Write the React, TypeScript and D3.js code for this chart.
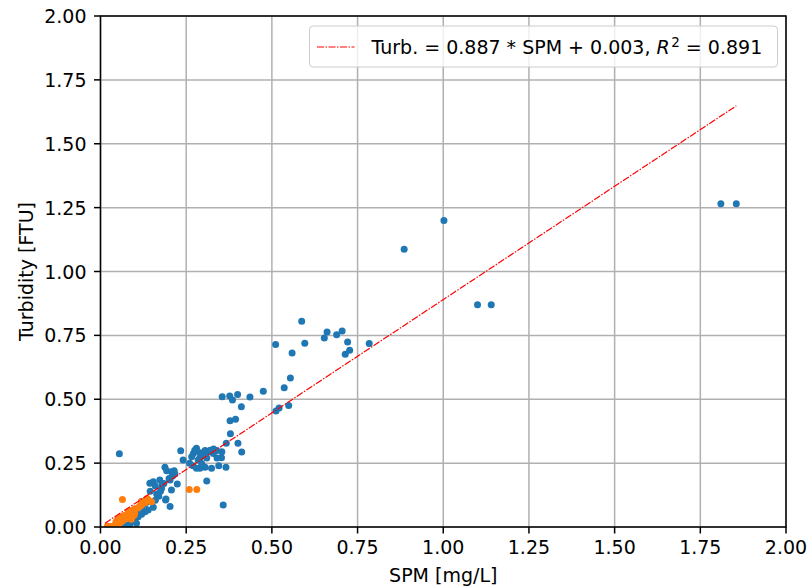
import React from "react";
import * as d3 from "d3";

const blueX = [1.81, 1.855, 1.002, 0.886, 1.10, 1.14,
  0.587, 0.511, 0.596, 0.559, 0.653, 0.661, 0.689, 0.705, 0.721, 0.714, 0.727, 0.784,
  0.554, 0.536, 0.475, 0.436, 0.40, 0.385, 0.377, 0.355, 0.411, 0.512, 0.521, 0.549,
  0.378, 0.394, 0.379, 0.401, 0.412, 0.367, 0.354, 0.339, 0.329, 0.315, 0.305, 0.29, 0.28, 0.271, 0.266,
  0.234, 0.241, 0.285, 0.295, 0.305, 0.29, 0.324, 0.353, 0.366, 0.31, 0.358,
  0.275, 0.30, 0.31, 0.32, 0.26, 0.27, 0.28, 0.29, 0.33, 0.34, 0.345,
  0.188, 0.193, 0.207, 0.217, 0.224, 0.203, 0.173, 0.154, 0.144,
  0.055, 0.19, 0.164, 0.152, 0.178, 0.207, 0.203, 0.191, 0.154, 0.139,
  0.13, 0.12, 0.11, 0.10, 0.09, 0.085, 0.08, 0.075, 0.07, 0.10, 0.11, 0.12, 0.13, 0.14, 0.125, 0.115, 0.095, 0.105, 0.12,
  0.17, 0.16, 0.145, 0.16, 0.175, 0.18, 0.20, 0.21, 0.215, 0.185];
const blueY = [1.265, 1.265, 1.2, 1.087, 0.87, 0.87,
  0.805, 0.714, 0.719, 0.681, 0.74, 0.763, 0.752, 0.767, 0.724, 0.676, 0.692, 0.718,
  0.583, 0.545, 0.531, 0.509, 0.519, 0.497, 0.513, 0.51, 0.471, 0.454, 0.466, 0.476,
  0.416, 0.422, 0.365, 0.328, 0.294, 0.328, 0.295, 0.299, 0.288, 0.295, 0.299, 0.291, 0.308, 0.288, 0.275,
  0.298, 0.262, 0.262, 0.249, 0.234, 0.23, 0.23, 0.271, 0.234, 0.18, 0.086,
  0.30, 0.28, 0.27, 0.30, 0.25, 0.24, 0.23, 0.27, 0.305, 0.27, 0.24,
  0.234, 0.22, 0.216, 0.207, 0.168, 0.184, 0.184, 0.177, 0.171,
  0.287, 0.106, 0.129, 0.173, 0.151, 0.145, 0.08, 0.11, 0.077, 0.067,
  0.06, 0.05, 0.04, 0.03, 0.02, 0.01, 0.005, 0.0, 0.01, 0.07, 0.06, 0.08, 0.09, 0.10, 0.065, 0.055, 0.045, 0.015, 0.10,
  0.12, 0.16, 0.14, 0.105, 0.14, 0.165, 0.19, 0.20, 0.22, 0.17];

const orangeX = [0.064, 0.259, 0.281, 0.136, 0.149, 0.12, 0.115, 0.096, 0.081, 0.098, 0.11, 0.10, 0.09, 0.085,
  0.075, 0.07, 0.065, 0.06, 0.055, 0.05, 0.045, 0.04, 0.035, 0.03, 0.025, 0.05, 0.06, 0.07, 0.08, 0.09,
  0.10, 0.13, 0.14, 0.12, 0.02, 0.045];
const orangeY = [0.108, 0.147, 0.147, 0.112, 0.099, 0.086, 0.082, 0.045, 0.06, 0.047, 0.075, 0.07, 0.065, 0.05,
  0.04, 0.03, 0.025, 0.02, 0.015, 0.01, 0.008, 0.005, 0.003, 0.002, 0.001, 0.03, 0.04, 0.045, 0.035, 0.03,
  0.055, 0.095, 0.105, 0.10, 0.003, 0.02];

const slope = 0.887;
const intercept = 0.003;
const fitRange = [0.013, 1.855];
const xTicks = [0, 0.25, 0.5, 0.75, 1.0, 1.25, 1.5, 1.75, 2.0];
const yTicks = [0, 0.25, 0.5, 0.75, 1.0, 1.25, 1.5, 1.75, 2.0];

export default function App() {
  const W = 810, H = 588;
  const L = 100.5, R = 786, T = 16, B = 527;
  const x = d3.scaleLinear().domain([0, 2]).range([L, R]);
  const y = d3.scaleLinear().domain([0, 2]).range([B, T]);
  const fmt = d3.format(".2f");
  const fs = 19;
  const font = "DejaVu Sans";
  const line = d3.line<number>().x((d) => x(d)).y((d) => y(slope * d + intercept));
  const blue = blueX.map((v, i) => [v, blueY[i]]);
  const orange = orangeX.map((v, i) => [v, orangeY[i]]);
  const lgL = 309.5, lgR = 777.5, lgT = 26, lgB = 67;
  return (
    <svg width={W} height={H} style={{ position: "absolute", left: 0, top: 0 }} fontFamily={font}>
      <rect width={W} height={H} fill="white" />
      {xTicks.map((t) => (
        <line key={"gx" + t} x1={x(t)} x2={x(t)} y1={T} y2={B} stroke="#b0b0b0" strokeWidth={1.5} />
      ))}
      {yTicks.map((t) => (
        <line key={"gy" + t} x1={L} x2={R} y1={y(t)} y2={y(t)} stroke="#b0b0b0" strokeWidth={1.5} />
      ))}
      <g clipPath="url(#clip)">
        {blue.map((d, i) => (
          <circle key={"b" + i} cx={x(d[0])} cy={y(d[1])} r={3.5} fill="#1f77b4" />
        ))}
        {orange.map((d, i) => (
          <circle key={"o" + i} cx={x(d[0])} cy={y(d[1])} r={3.5} fill="#ff7f0e" />
        ))}
        <path d={line(fitRange) || ""} stroke="red" strokeWidth={1.2} fill="none" strokeDasharray="7 1.5 1.5 1.5" />
      </g>
      <defs>
        <clipPath id="clip">
          <rect x={L} y={T} width={R - L} height={B - T} />
        </clipPath>
      </defs>
      <rect x={L} y={T} width={R - L} height={B - T} fill="none" stroke="black" strokeWidth={1.5} />
      {xTicks.map((t) => (
        <g key={"tx" + t}>
          <line x1={x(t)} x2={x(t)} y1={B} y2={B + 6.5} stroke="black" strokeWidth={1.5} />
          <text x={x(t)} y={B + 27} textAnchor="middle" fontSize={fs} fill="#000">{fmt(t)}</text>
        </g>
      ))}
      {yTicks.map((t) => (
        <g key={"ty" + t}>
          <line x1={L - 6.5} x2={L} y1={y(t)} y2={y(t)} stroke="black" strokeWidth={1.5} />
          <text x={L - 14} y={y(t) + 7} textAnchor="end" fontSize={fs} fill="#000">{fmt(t)}</text>
        </g>
      ))}
      <text x={(L + R) / 2} y={582} textAnchor="middle" fontSize={fs}>SPM [mg/L]</text>
      <text transform={`translate(33,${(T + B) / 2}) rotate(-90)`} textAnchor="middle" fontSize={fs}>Turbidity [FTU]</text>
      <rect x={lgL} y={lgT} width={lgR - lgL} height={lgB - lgT} rx={3.7} fill="white" fillOpacity={0.8} stroke="#cccccc" strokeWidth={1} />
      <line x1={lgL + 7.5} x2={lgL + 45} y1={47} y2={47} stroke="red" strokeWidth={1.2} strokeDasharray="7 1.5 1.5 1.5" />
      <text x={lgL + 62} y={54} fontSize={fs} style={{ whiteSpace: "pre" }}>
        <tspan>{"Turb. = 0.887 * SPM + 0.003, "}</tspan>
        <tspan fontStyle="italic">R</tspan>
        <tspan dx={1.5} dy={-7.5} fontSize={13.5}>2</tspan>
        <tspan dy={7.5}>{" = 0.891"}</tspan>
      </text>
    </svg>
  );
}
